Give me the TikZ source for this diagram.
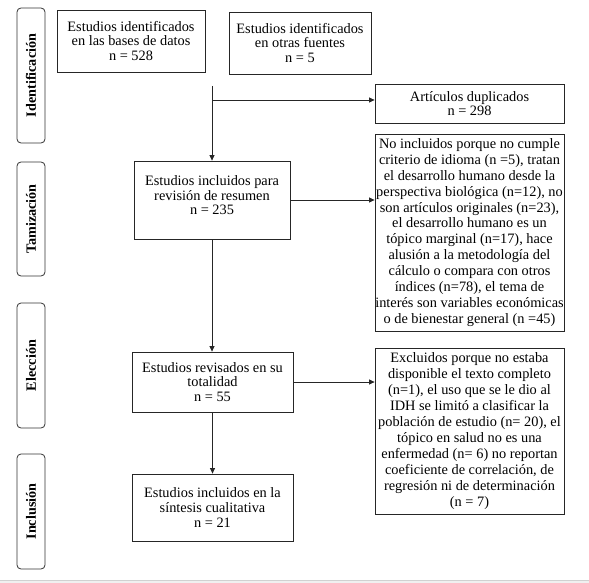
\documentclass[tikz,border=0pt]{standalone}
\usepackage{fontspec}
\setmainfont{Liberation Serif}
\usetikzlibrary{arrows.meta}
\begin{document}
\begin{tikzpicture}[x=1bp,y=-1bp,
  box/.style={draw=black!85, line width=0.8bp, rectangle, align=center, inner sep=0pt,
    font=\rmfamily\fontsize{14.4}{14.8}\selectfont},
  bigbox/.style={box, font=\rmfamily\fontsize{14.4}{16}\selectfont},
  phase/.style={draw=black!80, line width=0.8bp, rounded corners=4bp, minimum width=28bp,
    inner sep=0pt},
  phasetext/.style={rotate=90, font=\rmfamily\fontsize{14.2}{14.8}\selectfont\bfseries},
  conn/.style={draw=black!85, line width=0.8bp},
  arr/.style={conn, -{Triangle[length=5.5bp,width=5bp]}}]
\useasboundingbox (0,0) rectangle (589,583);
\fill[black!6] (0,580) rectangle (589,583);
\draw[black!18, line width=1bp] (0,580.5) -- (589,580.5);

% phase labels
\node[phase, minimum height=135bp] (pid) at (31,75.5) {};
\node[phasetext] (tid) at (pid.center) {Identificación};
\node[phase, minimum height=114bp] (ptam) at (31,219) {};
\node[phasetext] (ttam) at (ptam.center) {Tamización};
\node[phase, minimum height=125bp] (pel) at (31,365.5) {};
\node[phasetext] (tel) at (pel.center) {Elección};
\node[phase, minimum height=115bp] (pin) at (31,511.5) {};
\node[phasetext] (tin) at (pin.center) {Inclusión};

% boxes
\node[box, minimum width=148bp, minimum height=62bp] (b1) at (131,41)
  {Estudios identificados\\en las bases de datos\\n = 528};
\node[box, minimum width=142bp, minimum height=62bp] (b2) at (300,43)
  {Estudios identificados\\en otras fuentes\\n = 5};
\node[box, minimum width=189bp, minimum height=39bp] (dup) at (469.5,103.5)
  {Artículos duplicados\\n = 298};
\node[box, minimum width=156bp, minimum height=78bp] (tam) at (212,200)
  {Estudios incluidos para\\revisión de resumen\\n = 235\\[-4.8bp]\mbox{}};
\node[bigbox, minimum width=189bp, minimum height=197bp] (noinc) at (469.5,232.5)
  {No incluidos porque no cumple\\criterio de idioma (n =5), tratan\\el desarrollo humano desde la\\perspectiva biológica (n=12), no\\son artículos originales (n=23),\\el desarrollo humano es un\\tópico marginal (n=17), hace\\alusión a la metodología del\\cálculo o compara con otros\\índices (n=78), el tema de\\interés son variables económicas\\o de bienestar general (n =45)};
\node[box, minimum width=161bp, minimum height=60bp] (el) at (212.5,382)
  {Estudios revisados en su\\totalidad\\n = 55};
\node[bigbox, minimum width=189bp, minimum height=166bp] (excl) at (469.5,431)
  {Excluidos porque no estaba\\disponible el texto completo\\(n=1), el uso que se le dio al\\IDH se limitó a clasificar la\\población de estudio (n= 20), el\\tópico en salud no es una\\enfermedad (n= 6) no reportan\\coeficiente de correlación, de\\regresión ni de determinación\\(n = 7)};
\node[box, minimum width=161bp, minimum height=67bp] (inc) at (212.5,507.5)
  {Estudios incluidos en la\\síntesis cualitativa\\n = 21};

% connectors
\coordinate (top) at (212,86);
\coordinate (split) at (212,100);
\draw[arr] (top) -- (tam.north);
\draw[arr] (split) -- (split -| dup.west);
\draw[arr] (tam.east) -- (tam.east -| noinc.west);
\draw[arr] (tam.south) -- (tam.south |- el.north);
\draw[arr] (el.east) -- (el.east -| excl.west);
\draw[arr] (el.south) -- (inc.north);
\end{tikzpicture}
\end{document}
